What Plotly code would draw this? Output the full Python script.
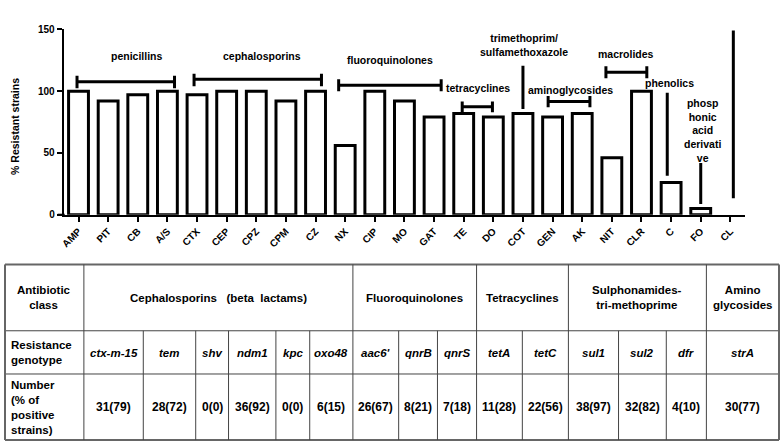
import plotly.graph_objects as go

# ---------------- data ----------------
antibiotics = ["AMP", "PIT", "CB", "A/S", "CTX", "CEP", "CPZ", "CPM", "CZ", "NX", "CIP", "MO",
               "GAT", "TE", "DO", "COT", "GEN", "AK", "NIT", "CLR", "C", "FO", "CL"]
resistant_pct = [100, 92, 97, 100, 97, 100, 100, 92, 100, 56, 100, 92,
                 79, 82, 79, 82, 79, 82, 46, 100, 26, 5, 0]

table_classes = ["Cephalosporins\u00a0\u00a0 (beta\u00a0 lactams)", "Fluoroquinolones", "Tetracyclines",
                 "Sulphonamides-<br>tri-methoprime", "Amino<br>glycosides"]
class_spans = [6, 3, 2, 3, 1]
genotypes = ["ctx-m-15", "tem", "shv", "ndm1", "kpc", "oxo48", "aac6'", "qnrB", "qnrS",
             "tetA", "tetC", "sul1", "sul2", "dfr", "strA"]
gene_counts = [31, 28, 0, 36, 0, 6, 26, 8, 7, 11, 22, 38, 32, 4, 30]
gene_pcts = [79, 72, 0, 92, 0, 15, 67, 21, 18, 28, 56, 97, 82, 10, 77]

# ---------------- layout helpers ----------------
W, H = 780, 447
FONT = "Arial, Liberation Sans, sans-serif"
px = lambda v: v / W
py = lambda v: 1 - v / H

idx = list(range(len(antibiotics)))

fig = go.Figure()
fig.add_bar(x=idx, y=resistant_pct, width=0.67,
            marker=dict(color="white",
                        line=dict(color="black", width=[3 if v > 0 else 0 for v in resistant_pct])),
            hoverinfo="x+y")

shapes = []
annotations = []

def label(text, x, y, xref="x", yref="y", size=10.5, **kw):
    annotations.append(dict(x=x, y=y, xref=xref, yref=yref, text=text, showarrow=False,
                            xanchor=kw.pop("xanchor", "center"), yanchor=kw.pop("yanchor", "middle"),
                            font=dict(family=FONT, size=size, color="black", weight="bold",
                                      style=kw.pop("style", "normal")), **kw))

# bracket groups: label, x0, x1, y, cap_low, cap_high, label_x, label_y
brackets = [
    ("penicillins", -0.05, 3.24, 107.6, 102.4, 112.4, 1.96, 128.7),
    ("cephalosporins", 3.9, 8.2, 109.7, 104.0, 114.0, 6.19, 128.7),
    ("fluoroquinolones", 8.78, 12.24, 104.7, 100.0, 109.7, 10.52, 125.5),
    ("tetracyclines", 12.95, 13.97, 87.4, 82.9, 91.6, 13.47, 102.6),
    ("aminoglycosides", 15.85, 17.26, 91.6, 87.0, 96.0, 16.6, 100.8),
    ("macrolides", 17.8, 19.18, 115.3, 110.5, 120.2, 18.47, 130.0),
]
for lab, x0, x1, yy, c0, c1, lx, ly in brackets:
    shapes.append(dict(type="line", xref="x", yref="y", x0=x0, x1=x1, y0=yy, y1=yy,
                       line=dict(color="black", width=3)))
    for xc in (x0, x1):
        shapes.append(dict(type="line", xref="x", yref="y", x0=xc, x1=xc, y0=c0, y1=c1,
                           line=dict(color="black", width=3)))
    label(lab, lx, ly)

# single-line markers: label, x, y0, y1, label_x, label_y
markers = [
    ("trimethoprim/<br>sulfamethoxazole", 15.0, 85.5, 120.5, 15.05, 137.0),
    ("phenolics", 19.87, 31.6, 98.7, 19.95, 106.6),
    ("phosp<br>honic<br>acid<br>derivati<br>ve", 21.0, 8.7, 41.8, 21.05, 68.4),
    ("antimicrobial<br>peptides", 22.1, 13.4, 149.0, 22.0, 161.2),
]
for lab, xx, y0, y1, lx, ly in markers:
    shapes.append(dict(type="line", xref="x", yref="y", x0=xx, x1=xx, y0=y0, y1=y1,
                       line=dict(color="black", width=3)))
    label(lab, lx, ly)

# y axis title
label("% Resistant strains", px(11), py(124), xref="paper", yref="paper", textangle=-90)
# x-axis line extension to the left of y-axis
shapes.append(dict(type="line", xref="paper", yref="paper", x0=px(54), x1=px(61),
                   y0=py(215), y1=py(215), line=dict(color="black", width=2)))

# ---------------- table ----------------
col_edges = [80.3, 140, 192.7, 225.7, 273.3, 307.3, 350.7, 396.7, 435.7, 475,
             521, 567.3, 617.7, 665.7, 706, 779]
row_edges = [266, 334, 378.3, 446]
left_edge = 1
line_inner = dict(color="#444444", width=1)
line_outer = dict(color="#666666", width=2)

def hline(y, x0, x1, ln):
    shapes.append(dict(type="line", xref="paper", yref="paper", x0=px(x0), x1=px(x1),
                       y0=py(y), y1=py(y), line=ln))

def vline(x, y0, y1, ln):
    shapes.append(dict(type="line", xref="paper", yref="paper", x0=px(x), x1=px(x),
                       y0=py(y0), y1=py(y1), line=ln))

hline(row_edges[0], left_edge, col_edges[-1], line_outer)
hline(row_edges[-1], left_edge, col_edges[-1], line_outer)
hline(row_edges[1], left_edge, col_edges[-1], line_inner)
hline(row_edges[2], left_edge, col_edges[-1], line_inner)
vline(left_edge, row_edges[0], row_edges[-1], line_outer)
vline(col_edges[-1], row_edges[0], row_edges[-1], line_outer)

class_bounds = [0]
for s in class_spans:
    class_bounds.append(class_bounds[-1] + s)
for i in range(len(genotypes)):
    full = i in class_bounds
    vline(col_edges[i], row_edges[0] if full else row_edges[1], row_edges[-1], line_inner)

TF = 11.5
def cell_text(text, xc, yc, italic=False, align="center", xanchor="center", size=TF):
    label(text, px(xc), py(yc), xref="paper", yref="paper", size=size, align=align,
          xanchor=xanchor, style="italic" if italic else "normal")

r_mid = [(row_edges[i] + row_edges[i + 1]) / 2 for i in range(3)]
cell_text("Antibiotic<br>class", (left_edge + col_edges[0]) / 2, r_mid[0])
cell_text("Resistance<br>genotype", 5, r_mid[1], align="left", xanchor="left")
cell_text("Number<br>(% of<br>positive<br>strains)", 5, r_mid[2], align="left", xanchor="left")

for k, name in enumerate(table_classes):
    a, b = class_bounds[k], class_bounds[k + 1]
    cell_text(name, (col_edges[a] + col_edges[b]) / 2, r_mid[0])
for i, g in enumerate(genotypes):
    xc = (col_edges[i] + col_edges[i + 1]) / 2
    cell_text(g, xc, r_mid[1] + 1, italic=True)
    cell_text(f"{gene_counts[i]}({gene_pcts[i]})", xc, r_mid[2], size=12)

fig.update_layout(
    width=W, height=H, autosize=False,
    margin=dict(l=0, r=0, t=0, b=0),
    paper_bgcolor="white", plot_bgcolor="white",
    showlegend=False, bargap=0.33,
    shapes=shapes, annotations=annotations,
    xaxis=dict(domain=[px(60), px(745)], range=[-0.5, 22.5], tickmode="array",
               tickvals=idx, ticktext=antibiotics, tickangle=-45,
               showline=True, linecolor="black", linewidth=2,
               ticks="outside", ticklen=5, tickwidth=2, tickcolor="black",
               showgrid=False, zeroline=False,
               tickfont=dict(family=FONT, size=10, color="black", weight="bold")),
    yaxis=dict(domain=[py(215), py(25)], range=[0, 150], tickvals=[0, 50, 100, 150],
               showline=True, linecolor="black", linewidth=2,
               ticks="outside", ticklen=5, tickwidth=2, tickcolor="black",
               showgrid=False, zeroline=False,
               tickfont=dict(family=FONT, size=10, color="black", weight="bold")),
)

fig.write_html("out.html", config={"displayModeBar": False},
               post_script="document.body.style.margin='0';document.body.style.padding='0';"
                           "document.body.style.overflow='hidden';")
